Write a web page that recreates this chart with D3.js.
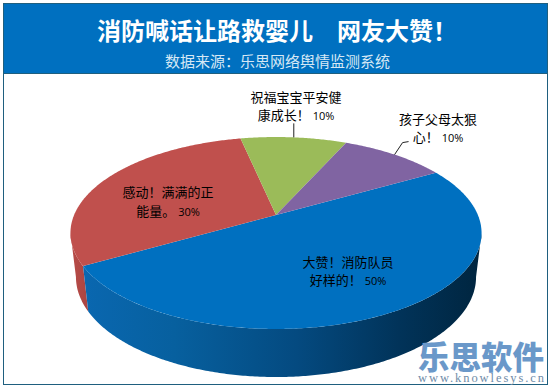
<!DOCTYPE html>
<html><head><meta charset="utf-8">
<script src="https://cdn.jsdelivr.net/npm/d3@7/dist/d3.min.js"></script>
<style>html,body{margin:0;padding:0;background:#fff}svg{display:block}</style></head>
<body><svg id="c" width="551" height="389"></svg>
<script>
const titleText = "消防喊话让路救婴儿　网友大赞！";
const subtitleText = "数据来源：乐思网络舆情监测系统";
const categories = ["大赞！消防队员好样的！","感动！满满的正能量。","祝福宝宝平安健康成长！","孩子父母太狠心！"];
const values = [50,30,10,10];
const labelLines = [["大赞！消防队员","好样的！"],["感动！满满的正","能量。"],["祝福宝宝平安健","康成长！"],["孩子父母太狠","心！"]];
const colors = ["#0070c0","#c0504d","#9bbb59","#8064a2"];
const firstAngleDeg = 60;

const svg=d3.select("#c");
const defs=svg.append("defs");

// pie layout
const pieGen=d3.pie().value(d=>d).sort(null)
  .startAngle(firstAngleDeg*Math.PI/180).endAngle((firstAngleDeg+360)*Math.PI/180);
const arcs=pieGen(values);

// perspective disc projection: top rim and bottom rim of the cylinder
const k=0.1875, cx=276;
const topDisc={vy:215,A:201.9,B:92.6}, botDisc={vy:258.25,A:196.5,B:96.5};
function proj(theta,disc){
  const u=Math.sin(theta), v=-Math.cos(theta), s=1/(1-k*v);
  return [cx+disc.A*u*s, disc.vy+disc.B*v*s];
}
const line=d3.line();
function arcPts(a0,a1,disc){
  const n=Math.max(2,Math.ceil(Math.abs(a1-a0)/0.01));
  return d3.range(n+1).map(i=>proj(a0+(a1-a0)*i/n,disc));
}

// frame and header
svg.append("rect").attr("x",3.5).attr("y",3.5).attr("width",544).attr("height",381)
  .attr("fill","#fff").attr("stroke","#1f5f7f").attr("stroke-width",1);
svg.append("rect").attr("x",4).attr("y",4).attr("width",543).attr("height",69).attr("fill","#0070c0");
svg.append("line").attr("x1",4).attr("x2",547).attr("y1",73.5).attr("y2",73.5).attr("stroke","#1f5f7f");

// side wall gradients
function grad(id,stops){
  const g=defs.append("linearGradient").attr("id",id).attr("gradientUnits","userSpaceOnUse")
    .attr("x1",71).attr("x2",482).attr("y1",0).attr("y2",0);
  stops.forEach(s=>g.append("stop").attr("offset",s[0]).attr("stop-color",s[1]));
}
grad("sideBlue",[[0,"#0a68b2"],[0.25,"#07609f"],[0.55,"#044a80"],[0.8,"#013359"],[1,"#00253f"]]);
grad("sideRed",[[0,"#b84c49"],[0.05,"#a8433f"]]);

const sideFill={0:"url(#sideBlue)",1:"url(#sideRed)"};
// only the rim between the two silhouette tangents faces the viewer
const frontStart=Math.acos(-k), frontEnd=2*Math.PI-frontStart;
[1,0].forEach(i=>{
  const a0=Math.max(arcs[i].startAngle,frontStart), a1=Math.min(arcs[i].endAngle,frontEnd);
  if(a1<=a0) return;
  const top=arcPts(a0,a1,topDisc), bot=arcPts(a1,a0,botDisc);
  svg.append("path").attr("d",line(top.concat(bot))+"Z").attr("fill",sideFill[i]);
});

// top faces
const vertex=[cx,topDisc.vy];
arcs.forEach((d,i)=>{
  svg.append("path").attr("d",line([vertex].concat(arcPts(d.startAngle,d.endAngle,topDisc)))+"Z")
    .attr("fill",colors[i]);
});

// leader lines
const leaderG=svg.append("g").attr("fill","none").attr("stroke","#222").attr("stroke-width",1);
const mid2=(arcs[2].startAngle+arcs[2].endAngle)/2, mid3=(arcs[3].startAngle+arcs[3].endAngle)/2;
const pm2=proj(mid2,topDisc), pm3=proj(mid3,topDisc);
leaderG.append("path").attr("d",line([pm2,[pm2[0],pm2[1]-14]]));
leaderG.append("path").attr("d",line([pm3,[pm3[0]+8,pm3[1]-12],[pm3[0]+14,pm3[1]-13]]));

// labels
const cjk="'Noto Sans CJK SC','Noto Sans',sans-serif";
const labelAnchors=[[348,266.5],[168,197],[296,101.5],[438,123.5]];
const lineGaps=[18.5,19,18.5,18.5];
arcs.forEach((d,i)=>{
  const t=svg.append("text").attr("text-anchor","middle").attr("font-family",cjk)
    .attr("font-size",13).attr("fill","#000");
  labelLines[i].forEach((ln,j)=>{
    t.append("tspan").attr("x",labelAnchors[i][0]).attr("y",labelAnchors[i][1]+j*lineGaps[i]).text(ln);
    if(j===labelLines[i].length-1)
      t.append("tspan").attr("font-family","'Open Sans',sans-serif").attr("font-size",11).attr("dx",3).text(values[i]+"%");
  });
});

// title
svg.append("text").attr("x",97).attr("y",40)
  .attr("font-family",cjk).attr("font-weight",700).attr("font-size",24).attr("fill","#fff").text(titleText);
svg.append("text").attr("x",165).attr("y",67)
  .attr("font-family",cjk).attr("font-size",15).attr("fill","#d6e8f5").text(subtitleText);

// watermark
svg.append("text").attr("x",418).attr("y",369).attr("font-family",cjk).attr("font-weight",900)
  .attr("font-size",31.5).attr("fill","#6a98c9").text("乐思软件");
svg.append("text").attr("x",418).attr("y",382).attr("font-family","'Liberation Serif',serif")
  .attr("font-size",12.5).attr("textLength",126).attr("fill","#6f8ca8").text("www.knowlesys.cn");
</script></body></html>
